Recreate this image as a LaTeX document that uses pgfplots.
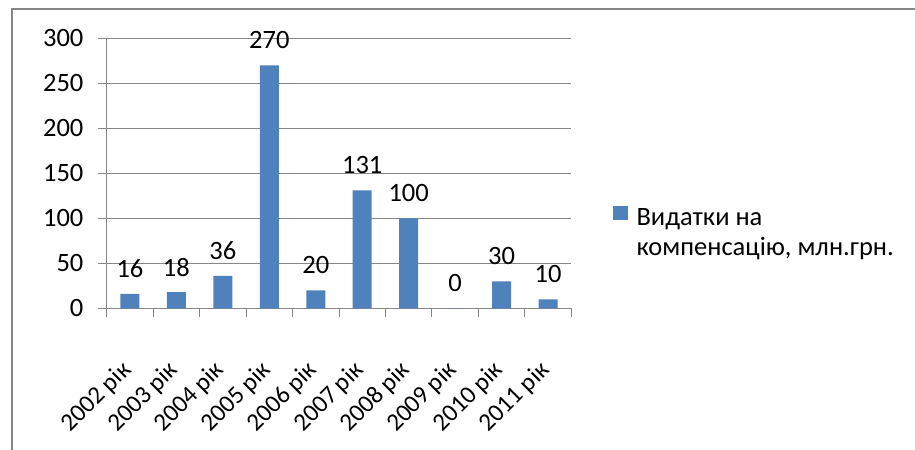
\documentclass[border=0pt]{standalone}
\usepackage{pgfplots}
\pgfplotsset{compat=1.18}
\usepackage{fontspec}
\setmainfont{Carlito}
\definecolor{barblue}{HTML}{4F81BD}
\definecolor{gridgray}{HTML}{868686}
\newcommand{\cf}{\fontsize{26.5bp}{30bp}\selectfont}
\newcommand{\xf}{\fontsize{25bp}{29bp}\selectfont}
\begin{document}
\begin{tikzpicture}[x=1bp,y=1bp]
\useasboundingbox (0,0) rectangle (915,450);
\draw[gridgray, line width=1.3bp] (12,-10) -- (12,441) -- (930,441);
\begin{axis}[
  at={(106.7bp,141.7bp)}, anchor=south west,
  scale only axis, width=464.6bp, height=269.9bp,
  xmin=-0.5, xmax=9.5, ymin=0, ymax=300,
  ybar, bar width=19bp,
  axis x line*=bottom, axis y line*=left,
  axis line style={gridgray, line width=1bp},
  ytick={0,50,100,150,200,250,300},
  ymajorgrids, grid style={gridgray, line width=1bp},
  xtick={-0.5,0.5,1.5,2.5,3.5,4.5,5.5,6.5,7.5,8.5,9.5},
  xticklabels={2002 рік,2003 рік,2004 рік,2005 рік,2006 рік,2007 рік,2008 рік,2009 рік,2010 рік,2011 рік,{}},
  tick align=outside, major tick length=8.4bp,
  tick style={gridgray, line width=1bp},
  /pgf/number format/assume math mode=true,
  tick label style={font=\cf, inner sep=0pt},
  yticklabel style={anchor=east, xshift=-14.7bp},
  xticklabel style={font=\xf, xshift=21bp, yshift=-50bp, rotate=45, anchor=east},
  nodes near coords,
  nodes near coords style={font=\cf, anchor=center, yshift=25bp, inner sep=0pt, text=black},
  legend style={at={(axis description cs:1.0898,0.3864)}, anchor=north west,
    draw=none, fill=none, inner sep=0pt, outer sep=0pt, font=\cf,
    nodes={inner sep=0pt}, column sep=9bp},
  legend image code/.code={\fill[barblue] (0bp,-5bp) rectangle (14.5bp,9.5bp);},
]
\addplot[fill=barblue, draw=none] coordinates {(0,16) (1,18) (2,36) (3,270) (4,20) (5,131) (6,100) (7,0) (8,30) (9,10)};
\addlegendentry{{\begin{tabular}[t]{@{}l@{}}Видатки на\\компенсацію, млн.грн.\end{tabular}}}
\end{axis}
\end{tikzpicture}
\end{document}
